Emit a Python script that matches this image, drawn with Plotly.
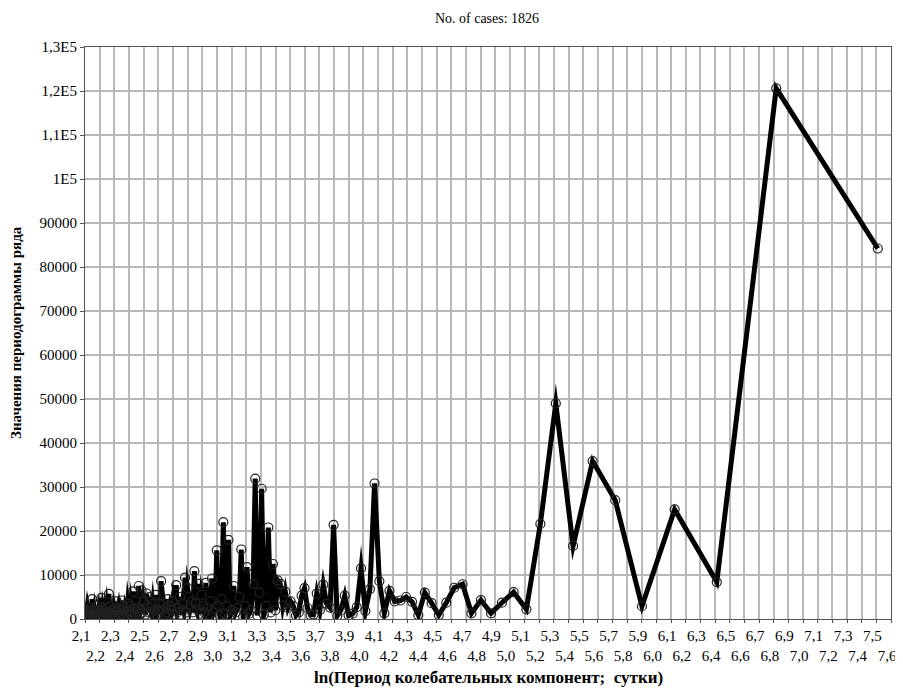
import numpy as np
import plotly.graph_objects as go

# ---- data ----
n_cases = 1826
harmonic_index = list(range(1, 225))  # Fourier frequency index k (period = n_cases / k)
periodogram_values = [
    84200, 120600, 8400, 24900, 2900, 27000, 35900, 16600, 49000, 21600,      # k 1-10
    2200, 6100, 3700, 1300, 4300, 1300, 7900, 7100, 3700, 900,                # 11-20
    3600, 6000, 900, 3900, 5000, 4200, 4000, 6400, 1300, 8600,                # 21-30
    30800, 6800, 1800, 11500, 2700, 1200, 800, 5300, 2000, 700,               # 31-40
    21400, 2600, 3500, 7800, 2000, 5800, 1000, 900, 2500, 7000,               # 41-50
    5300, 1500, 800, 3000, 4000, 2500, 6200, 3000, 8000, 8800,                # 51-60
    2000, 12500, 1500, 20800, 3000, 1000, 29600, 6000, 800, 31900,            # 61-70
    8000, 2000, 1200, 11800, 3000, 500, 15800, 5000, 2500, 1500,              # 71-80
    7500, 2000, 900, 18000, 3000, 1200, 22000, 4500, 700, 3000,               # 81-90
    15600, 2500, 1500, 9200, 4000, 1000, 2500, 8200, 1500, 3000,              # 91-100
    5500, 1200, 8000, 2000, 3500, 10900, 1500, 4000, 2500, 5000,              # 101-110
    7000, 1500, 9400, 2000, 3500, 1000, 5000, 2500, 1500, 7700,               # 111-120
    2500, 1000, 4000, 2000, 3000, 1200, 4500, 1500, 2500, 1000,               # 121-130
    3500, 2000, 8600, 1500, 3500, 2000, 1000, 5500, 2000, 1000,               # 131-140
    3500, 1500, 2500, 5000, 1500, 3000, 5800, 1000, 2500, 4000,               # 141-150
    1500, 6500, 2000, 1000, 7500, 2500, 1500, 4000, 1000, 2500,               # 151-160
    6300, 1500, 800, 3000, 1200, 2000, 3500, 800, 1500, 2500,                 # 161-170
    800, 3000, 1200, 4200, 1000, 2000, 800, 2500, 1500, 4000,                 # 171-180
    800, 1500, 2500, 600, 2000, 1000, 1500, 700, 3000, 5700,                  # 181-190
    1500, 800, 2500, 1000, 2000, 600, 1500, 2500, 800, 4800,                  # 191-200
    1000, 1500, 700, 2000, 1000, 3000, 800, 1500, 600, 2000,                  # 201-210
    1000, 800, 4500, 1000, 1500, 500, 2500, 800, 1800, 600,                   # 211-220
    2000, 900, 1500, 1200,                                                    # 221-224
]

x_tick_values = [round(2.1 + 0.1 * i, 1) for i in range(56)]
x_tick_labels = [
    ("" if i % 2 == 0 else "<br>") + f"{v:.1f}".replace(".", ",")
    for i, v in enumerate(x_tick_values)
]
y_tick_values = [0, 10000, 20000, 30000, 40000, 50000, 60000, 70000, 80000,
                 90000, 100000, 110000, 120000, 130000]
y_tick_labels = ["0", "10000", "20000", "30000", "40000", "50000", "60000",
                 "70000", "80000", "90000", "1E5", "1,1E5", "1,2E5", "1,3E5"]

title_text = "No. of cases: 1826"
x_title = "ln(Период колебательных компонент;  сутки)"
y_title = "Значения периодограммы ряда"

# ln(period) for each harmonic
x_values = np.log(n_cases / np.array(harmonic_index, dtype=float))

SERIF = "Liberation Serif, Times New Roman, serif"

# The page body has an 8px margin; the figure is sized so that it fills the window.
OFF = 8
W, H = 903 - OFF, 688 - OFF
PL, PT, PR, PB = 85 - OFF, 47 - OFF, 891 - OFF, 619 - OFF   # plot box in figure px
plot_h = PB - PT
plot_w = PR - PL

fig = go.Figure()
fig.add_trace(go.Scatter(
    x=x_values,
    y=periodogram_values,
    mode="lines+markers",
    line=dict(color="black", width=5),
    marker=dict(symbol="circle-open", size=9, color="#222222",
                line=dict(width=1.2, color="#222222")),
    showlegend=False,
))

fig.update_layout(
    width=W, height=H,
    margin=dict(l=PL, r=W - PR, t=PT, b=H - PB, autoexpand=False),
    paper_bgcolor="white",
    plot_bgcolor="white",
    font=dict(family=SERIF, size=15, color="black"),
    title=dict(text=title_text, x=(487 - OFF) / W, xanchor="center",
               y=1 - (18 - OFF) / H, yanchor="middle",
               font=dict(family=SERIF, size=14, color="black")),
    xaxis=dict(
        range=[2.1, 7.6],
        tickmode="array", tickvals=x_tick_values, ticktext=x_tick_labels,
        showgrid=True, gridcolor="#b8b8b8", gridwidth=1.5,
        showline=True, mirror=True, linecolor="#555555", linewidth=1,
        ticks="outside", ticklen=3, tickcolor="#555555",
        tickangle=0, zeroline=False, ticklabelshift=-4,
        tickfont=dict(family=SERIF, size=15, color="black"),
    ),
    yaxis=dict(
        range=[0, 130000],
        tickmode="array", tickvals=y_tick_values, ticktext=y_tick_labels,
        showgrid=True, gridcolor="#b8b8b8", gridwidth=1.5,
        showline=True, mirror=True, linecolor="#555555", linewidth=1,
        ticks="outside", ticklen=4, tickcolor="#555555",
        zeroline=False,
        tickfont=dict(family=SERIF, size=15, color="black"),
    ),
    annotations=[
        dict(text="<b>" + x_title + "</b>", xref="paper", yref="paper",
             x=0.5, y=(619 - 677) / plot_h, xanchor="center", yanchor="middle",
             showarrow=False, font=dict(family=SERIF, size=17, color="black")),
        dict(text="<b>" + y_title + "</b>", xref="paper", yref="paper",
             x=(16 - 85) / plot_w, y=0.5, xanchor="center", yanchor="middle",
             textangle=-90, showarrow=False,
             font=dict(family=SERIF, size=15, color="black")),
    ],
)

# sharp (mitred) line joins like the original software's rendering
post = """
document.querySelectorAll('.scatterlayer path.js-line').forEach(function(p){
  p.style.strokeLinejoin = 'miter';
  p.style.strokeMiterlimit = '10';
});
"""

fig.write_html("out.html", post_script=post)
